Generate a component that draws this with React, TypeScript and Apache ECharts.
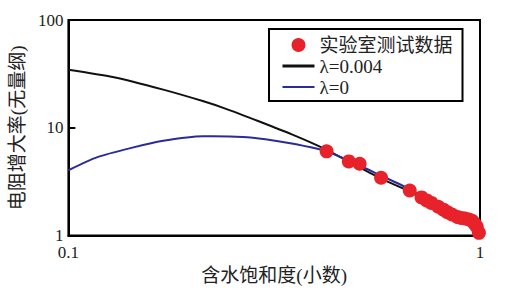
import React, { useEffect, useRef } from "react";
import * as echarts from "echarts";

const satExp = [0.424, 0.48, 0.51, 0.575, 0.675, 0.721, 0.742, 0.762, 0.792, 0.815, 0.833, 0.855, 0.881, 0.9, 0.92, 0.94, 0.957, 0.97, 0.982, 0.994];
const resExp = [6.05, 4.88, 4.64, 3.44, 2.62, 2.26, 2.12, 2.01, 1.85, 1.74, 1.65, 1.57, 1.49, 1.46, 1.44, 1.41, 1.37, 1.29, 1.21, 1.06];

const satL004 = [0.1, 0.129, 0.17, 0.212, 0.2415, 0.29, 0.349, 0.412, 0.48, 0.575, 0.675, 0.8, 0.92, 1.0];
const resL004 = [34.6, 29.5, 22.6, 17.7, 15.0, 11.5, 8.69, 6.58, 4.85, 3.37, 2.56, 1.8, 1.4, 1.0];

const satL0 = [0.1, 0.1176, 0.1415, 0.17, 0.212, 0.2244, 0.265, 0.301, 0.349, 0.405, 0.424, 0.48, 0.575, 0.675, 0.8, 0.92, 1.0];
const resL0 = [4.04, 5.34, 6.48, 7.57, 8.34, 8.34, 8.23, 7.83, 7.15, 6.35, 6.05, 4.97, 3.6, 2.7, 1.84, 1.41, 1.0];

const seriesNames = ["实验室测试数据", "λ=0.004", "λ=0"];
const xName = "含水饱和度(小数)";
const yName = "电阻增大率(无量纲)";

const FONT = "Liberation Serif, Noto Sans CJK SC, serif";
const RED = "#e8222a";
const BLACK = "#111";
const BLUE = "#2b2b99";

export default function App() {
  const ref = useRef<HTMLDivElement>(null);
  useEffect(() => {
    if (!ref.current) return;
    const chart = echarts.init(ref.current, null, { renderer: "svg" });
    const zip = (a: number[], b: number[]) => a.map((v, i) => [v, b[i]]);
    chart.setOption({
      animation: false,
      backgroundColor: "#fff",
      textStyle: { fontFamily: FONT },
      grid: {
        left: 64,
        right: 27,
        top: 20,
        bottom: 50,
        show: true,
        borderColor: "#000",
        borderWidth: 2,
      },
      legend: {
        orient: "vertical",
        left: 269,
        top: 29,
        width: 203,
        padding: [6, 10, 4, 12],
        borderColor: "#000",
        borderWidth: 2,
        itemWidth: 32,
        itemHeight: 14,
        itemGap: 1,
        textStyle: { fontSize: 19, lineHeight: 20, color: "#222", fontFamily: FONT },
        data: [
          { name: seriesNames[0], icon: "circle", itemStyle: { color: RED, opacity: 1 } },
          { name: seriesNames[1], itemStyle: { opacity: 0 }, lineStyle: { color: BLACK, width: 3 } },
          { name: seriesNames[2], itemStyle: { opacity: 0 }, lineStyle: { color: BLUE, width: 2 } },
        ],
      },
      xAxis: {
        type: "log",
        logBase: 10,
        min: 0.1,
        max: 1,
        name: xName,
        nameLocation: "middle",
        nameGap: 26,
        nameTextStyle: { fontSize: 19, color: "#222", fontFamily: FONT },
        axisLine: { lineStyle: { color: "#000", width: 2 } },
        axisTick: { show: false },
        splitLine: { show: false },
        minorTick: { show: false },
        axisLabel: { fontSize: 17, lineHeight: 16, color: "#222", margin: 9, fontFamily: FONT },
      },
      yAxis: {
        type: "log",
        logBase: 10,
        min: 1,
        max: 100,
        name: yName,
        nameLocation: "middle",
        nameGap: 30,
        nameTextStyle: { fontSize: 19, color: "#222", fontFamily: FONT },
        axisLine: { lineStyle: { color: "#000", width: 2 } },
        axisTick: { show: true, inside: true, length: 7, lineStyle: { color: "#000", width: 2 } },
        splitLine: { show: false },
        axisLabel: { fontSize: 17, lineHeight: 16, color: "#222", margin: 5, fontFamily: FONT },
      },
      series: [
        {
          name: seriesNames[0],
          type: "scatter",
          data: zip(satExp, resExp),
          symbolSize: 14,
          itemStyle: { color: RED, opacity: 1 },
          z: 5,
        },
        {
          name: seriesNames[1],
          type: "line",
          data: zip(satL004, resL004),
          symbol: "none",
          smooth: 0.2,
          lineStyle: { color: BLACK, width: 2 },
          itemStyle: { color: BLACK },
          z: 3,
        },
        {
          name: seriesNames[2],
          type: "line",
          data: zip(satL0, resL0),
          symbol: "none",
          smooth: 0.2,
          lineStyle: { color: BLUE, width: 2 },
          itemStyle: { color: BLUE },
          z: 4,
        },
      ],
    });
    return () => chart.dispose();
  }, []);
  return (
    <div
      ref={ref}
      style={{ position: "fixed", left: 0, top: 0, width: 507, height: 290 }}
    />
  );
}
